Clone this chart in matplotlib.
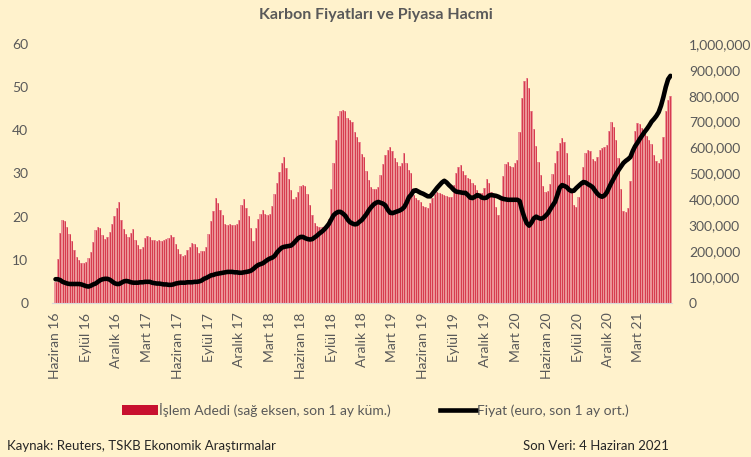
import matplotlib
matplotlib.use("Agg")
import matplotlib.pyplot as plt
import matplotlib.ticker as mticker
from matplotlib.patches import Patch
from matplotlib.lines import Line2D
import pandas as pd
import numpy as np

# ---- data (weekly) ----
dates = pd.date_range("2016-06-03", "2021-06-04", freq="W-FRI")

volume_k = [
    80, 170, 270, 320, 315, 295, 265, 240, 205, 178, 165, 154, 155, 158, 175, 195, 235, 280, 295, 290,
    262, 248, 255, 275, 305, 335, 365, 388, 320, 285, 268, 255, 272, 285, 245, 225, 210, 215, 250, 258,
    255, 245, 242, 240, 242, 240, 245, 248, 252, 262, 255, 228, 210, 190, 183, 185, 205, 218, 230, 228,
    215, 192, 200, 200, 215, 265, 315, 355, 405, 385, 360, 338, 305, 300, 305, 300, 302, 305, 320, 380,
    400, 365, 335, 290, 240, 290, 325, 345, 358, 342, 340, 345, 375, 420, 465, 505, 540, 565, 520, 480,
    435, 400, 410, 428, 450, 455, 450, 420, 380, 340, 310, 297, 295, 293, 292, 295, 325, 440, 540, 630,
    720, 740, 745, 740, 715, 705, 700, 660, 640, 620, 575, 562, 510, 475, 448, 438, 440, 448, 495, 535,
    570, 590, 602, 585, 558, 545, 530, 540, 578, 540, 515, 500, 415, 405, 398, 388, 375, 370, 368, 385,
    405, 420, 428, 425, 420, 417, 412, 410, 408, 455, 500, 525, 533, 510, 495, 482, 478, 465, 455, 435,
    425, 425, 445, 480, 462, 430, 410, 370, 340, 400, 490, 535, 544, 530, 525, 540, 552, 660, 790, 855,
    870, 830, 740, 670, 605, 545, 495, 450, 428, 432, 460, 498, 540, 585, 618, 635, 620, 580, 495, 430,
    380, 370, 410, 470, 525, 580, 592, 585, 555, 548, 565, 592, 600, 602, 610, 665, 700, 680, 630, 560,
    440, 355, 350, 368, 470, 600, 665, 695, 690, 675, 660, 645, 630, 615, 570, 548, 540, 555, 640, 740,
    785, 800,
]

price = [
    5.5, 5.5, 5.3, 4.9, 4.7, 4.5, 4.4, 4.4, 4.4, 4.4, 4.4, 4.3, 4.1, 3.9, 3.8, 4.0, 4.3, 4.5, 4.9, 5.3,
    5.5, 5.6, 5.6, 5.4, 5.0, 4.6, 4.4, 4.4, 4.7, 5.0, 5.1, 5.0, 4.8, 4.7, 4.7, 4.7, 4.8, 4.8, 4.9, 4.9,
    4.9, 4.7, 4.6, 4.5, 4.5, 4.4, 4.3, 4.3, 4.2, 4.2, 4.3, 4.5, 4.6, 4.7, 4.7, 4.7, 4.8, 4.8, 4.8, 4.9,
    4.9, 5.0, 5.2, 5.6, 5.8, 6.1, 6.4, 6.5, 6.7, 6.8, 6.9, 7.0, 7.1, 7.2, 7.2, 7.2, 7.1, 7.1, 7.0, 7.0,
    7.1, 7.2, 7.3, 7.5, 7.9, 8.4, 8.8, 9.0, 9.2, 9.6, 10.0, 10.3, 10.5, 10.9, 11.7, 12.3, 12.8, 13.0, 13.1, 13.2,
    13.3, 13.8, 14.4, 15.0, 15.3, 15.3, 15.0, 14.8, 14.7, 14.8, 15.2, 15.6, 16.1, 16.5, 17.0, 17.6, 18.3, 19.3, 20.3, 20.8,
    21.1, 21.1, 20.7, 20.2, 19.3, 18.7, 18.4, 18.2, 18.3, 18.8, 19.2, 19.9, 20.6, 21.5, 22.2, 22.8, 23.2, 23.4, 23.2, 23.0,
    22.6, 21.6, 20.9, 20.8, 21.0, 21.2, 21.4, 21.7, 22.2, 23.2, 24.5, 25.1, 26.0, 26.1, 25.8, 25.5, 25.3, 25.0, 24.7, 24.7,
    25.3, 26.0, 26.7, 27.3, 27.9, 28.3, 27.9, 27.3, 26.8, 26.2, 25.8, 25.7, 25.6, 25.5, 25.5, 25.0, 24.4, 24.3, 24.6, 25.0,
    24.8, 24.4, 24.3, 24.4, 24.9, 25.0, 24.9, 24.8, 24.6, 24.3, 24.1, 24.0, 23.9, 23.9, 23.9, 23.9, 23.9, 23.6, 21.5, 19.8,
    18.5, 17.9, 18.6, 19.6, 20.0, 19.7, 19.5, 19.7, 20.2, 20.8, 21.7, 22.6, 23.4, 25.0, 26.7, 27.3, 27.1, 26.8, 26.2, 25.9,
    26.0, 26.6, 27.1, 27.6, 28.0, 27.9, 27.5, 27.2, 26.8, 26.0, 25.3, 24.8, 24.6, 24.9, 25.6, 26.8, 27.9, 28.9, 29.9, 30.8,
    31.6, 32.4, 32.9, 33.3, 33.8, 35.2, 36.3, 37.1, 38.0, 38.8, 39.6, 40.3, 41.1, 42.0, 42.6, 43.3, 44.2, 45.7, 47.7, 50.0,
    51.8, 52.6,
]

tick_dates = pd.date_range("2016-06-01", "2021-03-01", freq="3MS")
tick_labels = ["Haziran 16", "Eylül 16", "Aralık 16", "Mart 17", "Haziran 17", "Eylül 17",
               "Aralık 17", "Mart 18", "Haziran 18", "Eylül 18", "Aralık 18", "Mart 19",
               "Haziran 19", "Eylül 19", "Aralık 19", "Mart 20", "Haziran 20", "Eylül 20",
               "Aralık 20", "Mart 21"]

title = "Karbon Fiyatları ve Piyasa Hacmi"
bar_label = "İşlem Adedi (sağ eksen, son 1 ay küm.)"
line_label = "Fiyat (euro, son 1 ay ort.)"
source = "Kaynak: Reuters, TSKB Ekonomik Araştırmalar"
last_data = "Son Veri: 4 Haziran 2021"

# ---- style ----
plt.rcParams["font.family"] = ["Lato", "DejaVu Sans"]
BG = "#FFF2CC"
TXT = "#595959"
RED = "#C8102E"
PINK = "#EC9497"
STRIPE = "#D0223A"

fig = plt.figure(figsize=(7.51, 4.57), dpi=100, facecolor=BG)
ax = fig.add_axes([0.069, 0.337, 0.826, 0.567])
ax2 = ax.twinx()

volume = np.array(volume_k) * 1000
ax2.bar(dates, volume, width=7.0, color=PINK, linewidth=0, zorder=1)
ax2.vlines(dates, 0, volume, color=STRIPE, lw=0.55, zorder=2)
ax.plot(dates, price, color="black", lw=3.3, solid_capstyle="round",
        solid_joinstyle="round", zorder=3)

ax.set_zorder(ax2.get_zorder() + 1)
ax.patch.set_visible(False)
ax2.set_facecolor(BG)
ax2.patch.set_visible(True)

ax.set_ylim(0, 60)
ax.set_yticks(range(0, 61, 10))
ax2.set_ylim(0, 1_000_000)
ax2.set_yticks(range(0, 1_000_001, 100_000))
ax2.yaxis.set_major_formatter(mticker.FuncFormatter(lambda v, p: f"{int(v):,}"))

ax.set_xlim(pd.Timestamp("2016-05-23"), pd.Timestamp("2021-06-09"))
ax.set_xticks(tick_dates)
ax.set_xticklabels(tick_labels, rotation=90)

for a in (ax, ax2):
    for s in a.spines.values():
        s.set_visible(False)
    a.tick_params(length=0, labelsize=10, colors=TXT)
ax2.spines["bottom"].set_visible(True)
ax2.spines["bottom"].set_color("#D9D9D9")
ax.tick_params(axis="y", pad=17)
ax2.tick_params(axis="y", pad=12)
ax.tick_params(axis="x", pad=7)

fig.text(0.5, 0.968, title, ha="center", va="center", fontsize=11.5,
         fontweight="bold", color=TXT)

handles = [Patch(facecolor=RED, edgecolor="none", label=bar_label),
           Line2D([0], [0], color="black", lw=3.3, label=line_label)]
fig.legend(handles=handles, loc="center", bbox_to_anchor=(0.5, 1 - 410 / 457),
           ncol=2, frameon=False, fontsize=10, handlelength=2.6,
           handletextpad=0.1, columnspacing=3.5, labelcolor=TXT)

fig.text(7 / 751, 1 - 446 / 457, source, ha="left", va="center", fontsize=9.5, color="#262626")
fig.text(523 / 751, 1 - 446 / 457, last_data, ha="left", va="center", fontsize=9.5, color="#262626")

fig.savefig("out.png", dpi=100, facecolor=BG)
